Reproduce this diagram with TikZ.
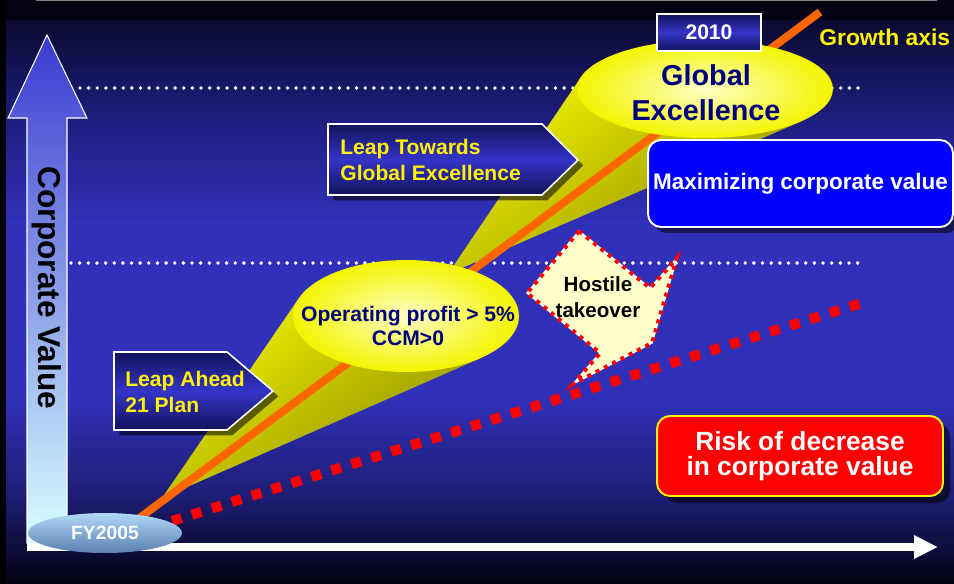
\documentclass[tikz,border=0pt]{standalone}
\usepackage{fontspec}
\setmainfont{Liberation Sans}
\usetikzlibrary{arrows.meta,shapes.geometric,shadows,positioning}
\definecolor{bgA}{HTML}{0A0A30}
\definecolor{bgB}{HTML}{1E1E80}
\definecolor{bgC}{HTML}{3030B8}
\definecolor{bgD}{HTML}{1C1C70}
\definecolor{bgE}{HTML}{020212}
\definecolor{axTop}{HTML}{3A3AD0}
\definecolor{axBot}{HTML}{D8FFFF}
\definecolor{boxDk}{HTML}{12125A}
\definecolor{boxMd}{HTML}{3434C8}
\definecolor{navyT}{HTML}{00007A}
\definecolor{growthOr}{HTML}{FF6600}
\definecolor{coneHi}{HTML}{F2F200}
\definecolor{coneLo}{HTML}{8A8A00}
\definecolor{ballIn}{HTML}{FFFFC8}
\definecolor{ballOut}{HTML}{F4F400}
\definecolor{fyTop}{HTML}{B0D8F8}
\definecolor{fyBot}{HTML}{5A80B0}
\definecolor{hostFill}{HTML}{FFFFCC}
\definecolor{riskRed}{HTML}{FF0000}
\definecolor{maxBlue}{HTML}{0000FF}
\tikzset{
  >=Stealth,
  dotrow/.style={white,line width=2.2pt,line cap=round,dash pattern=on 0pt off 4.92pt},
  boxshadow/.style={general shadow={fill=black,fill opacity=.55,shadow xshift=#1,shadow yshift=-#1}},
  leapbox/.style={draw=white,line width=0.9pt,top color=boxDk,bottom color=boxDk,middle color=boxMd,boxshadow=3pt},
  leaptxt/.style={anchor=west,inner sep=0pt,text=yellow,align=left,font=\bfseries\fontsize{12}{14.5}\selectfont},
  cone/.style={top color=coneHi,bottom color=coneLo,shading angle=36},
  ballnode/.style={ellipse,inner sep=0pt,inner color=ballIn,outer color=ballOut},
  navytxt/.style={text=navyT,align=center,inner sep=0pt},
  valbox/.style={rectangle,rounded corners=0.26cm,inner sep=0pt,align=center,text=white,line width=1.1pt,font=\bfseries\fontsize{12.8}{15}\selectfont}
}
\begin{document}
\begin{tikzpicture}[x=0.02cm,y=-0.02cm]
\useasboundingbox (0,0) rectangle (954,583);
\clip (0,0) rectangle (954,583);
% background
\fill[bgE] (0,0) rectangle (954,21);
\foreach \ya/\yb/\ca/\cb in {20/120/bgA/bgB,120/220/bgB/bgC,220/400/bgC/bgC,400/500/bgC/bgD,500/583/bgD/bgE}
  \shade[top color=\ca,bottom color=\cb] (0,\ya) rectangle (954,\yb+1);
\fill[black] (0,0) rectangle (6,583);
\draw[gray,line width=0.6pt] (36,0.5) -- (937,0.5);

% level lines
\draw[dotrow] (80,88) -- (862,88);
\draw[dotrow] (71,263) -- (866,263);

% value axis
\shade[top color=axTop,bottom color=axBot,draw=white,line width=0.6pt]
  (27,543) -- (27,118) -- (8,118) -- (47,35) -- (87,118) -- (67,118) -- (67,543) -- cycle;
\node[rotate=-90,font=\bfseries\fontsize{18}{20}\selectfont] (corpVal) at (47,288) {Corporate Value};

% time axis
\coordinate (orig) at (27,547);
\coordinate (tEnd) at (938,547);
\draw[white,line width=4pt,-{Triangle[length=13.6pt,width=12.5pt]}] (orig) -- (tEnd);

% risk line
\coordinate (rStart) at (172,521);
\coordinate (rEnd) at (868,301);
\draw[riskRed,line width=5.7pt,dash pattern=on 5.7pt off 6.2pt] (rStart) -- (rEnd);

% cones
\coordinate (apA) at (162,498);
\coordinate (apB) at (448,274);
\shade[cone] (apA) -- (299,298) -- (406,316) -- (481,358) -- cycle;
\shade[cone] (apB) -- (581,77) -- (705,89) -- (801,121.5) -- cycle;

% growth axis
\coordinate (gStart) at (130,525);
\coordinate (gEnd) at (820,12);
\draw[growthOr,line width=4.5pt] (gStart) -- (gEnd);

% milestones
\node[ballnode,minimum width=4.52cm,minimum height=2.24cm] (opBall) at (406,316) {};
\node[navytxt,font=\bfseries\fontsize{12}{14}\selectfont] (opTxt) at (408,326) {Operating profit > 5\%\\CCM>0};
\node[ballnode,minimum width=5.12cm,minimum height=1.96cm] (globBall) at (705,89) {};
\node[navytxt,font=\bfseries\fontsize{16.4}{20}\selectfont] (globEx) at (706,93) {Global\\Excellence};
\node[rectangle,draw=white,line width=0.9pt,top color=boxDk,bottom color=boxDk,middle color=boxMd,minimum width=2.08cm,minimum height=0.74cm,inner sep=0pt,text=white,font=\bfseries\fontsize{12}{14}\selectfont] (y2010) at (709,32.5) {2010};
\node[ellipse,top color=fyTop,bottom color=fyBot,minimum width=3.08cm,minimum height=0.8cm,inner sep=0pt,text=white,font=\bfseries\fontsize{11}{13}\selectfont] (fy2005) at (105,533) {FY2005};

% plans
\path[leapbox] (114,352) -- (227,352) -- (273,391) -- (227,430) -- (114,430) -- cycle;
\node[leaptxt] (leapAhead) at (125,392) {Leap Ahead\\21 Plan};
\path[leapbox] (328,124) -- (542,124) -- (578,160) -- (542,195) -- (328,195) -- cycle;
\node[leaptxt] (leapTow) at (340,160) {Leap Towards\\Global Excellence};

% value boxes
\node[valbox,fill=maxBlue,draw=white,boxshadow=3.5pt,minimum width=6.1cm,minimum height=1.74cm] (maxVal) at (800.5,183.5) {Maximizing corporate value};
\node[valbox,fill=riskRed,draw=yellow,boxshadow=4pt,minimum width=5.72cm,minimum height=1.6cm,font=\bfseries\fontsize{15}{14.2}\selectfont] (riskVal) at (800,456) {Risk of decrease\\in corporate value};

% hostile takeover
\path[draw=red,line width=2.3pt,dash pattern=on 2.3pt off 3pt,preaction={fill=hostFill,draw=white,line width=0.8pt,solid}]
  (579,231) -- (650,288) -- (677,258) -- (652,343) -- (573,384) -- (600,353) -- (527,293) -- cycle;
\node[align=center,inner sep=0pt,font=\bfseries\fontsize{11.7}{14.7}\selectfont] (hostile) at (598,297) {Hostile\\takeover};

\node[anchor=west,inner sep=0pt,text=yellow,font=\bfseries\fontsize{13}{15}\selectfont] (growthLbl) at (819,37) {Growth axis};
\end{tikzpicture}
\end{document}
